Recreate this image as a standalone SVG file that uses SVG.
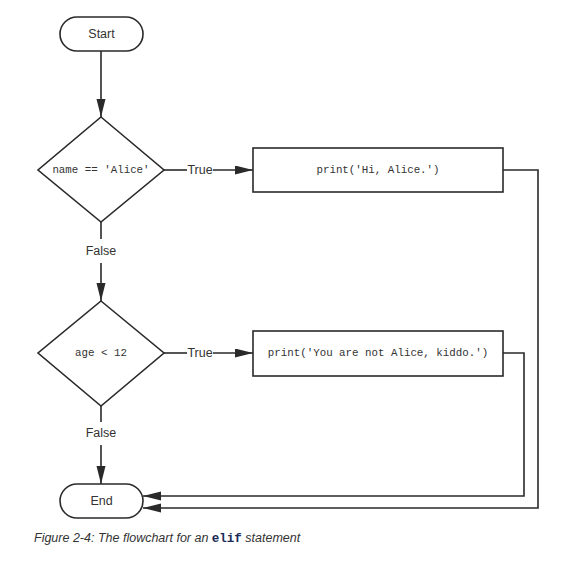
<svg xmlns="http://www.w3.org/2000/svg" width="570" height="561" viewBox="0 0 570 561">
<style>
.shape{fill:#fff;stroke:#2a2a2a;stroke-width:1.6}
.conn{fill:none;stroke:#2a2a2a;stroke-width:1.6}
.lbl{font-family:"Liberation Sans","DejaVu Sans",sans-serif;font-size:12.5px;fill:#333;text-anchor:middle;dominant-baseline:central}
.code{font-family:"Liberation Mono","DejaVu Sans Mono",monospace;font-size:10.8px;fill:#333;text-anchor:middle;dominant-baseline:central}
.cap{font-family:"Liberation Sans","DejaVu Sans",sans-serif;font-size:12.5px;font-style:italic;fill:#333}
</style>
<defs>
<marker id="arr" markerUnits="userSpaceOnUse" markerWidth="19" markerHeight="10" refX="18" refY="4.5" orient="auto">
<path d="M0,0 L18,4.5 L0,9 z" fill="#2a2a2a"/>
</marker>
</defs>
<rect width="570" height="561" fill="#fff"/>
<g id="start">
<rect class="shape" x="60" y="17" width="83" height="34" rx="17"/>
<text class="lbl" x="101.5" y="34">Start</text>
</g>
<g id="cond1">
<polygon class="shape" points="101,117 164,170 101,222 38,170"/>
<text class="code" x="101" y="170">name == 'Alice'</text>
</g>
<g id="print1">
<rect class="shape" x="253" y="148" width="250" height="44"/>
<text class="code" x="378" y="170">print('Hi, Alice.')</text>
</g>
<g id="cond2">
<polygon class="shape" points="101,301 164,353 101,406 38,353"/>
<text class="code" x="101" y="353">age &lt; 12</text>
</g>
<g id="print2">
<rect class="shape" x="253" y="331" width="250" height="45"/>
<text class="code" x="378" y="353">print('You are not Alice, kiddo.')</text>
</g>
<g id="end">
<rect class="shape" x="60" y="484" width="83" height="34" rx="17"/>
<text class="lbl" x="101.5" y="501">End</text>
</g>
<g id="connectors">
<path class="conn" d="M101,51 V117" marker-end="url(#arr)"/>
<path class="conn" d="M101,222 V239"/>
<text class="lbl" x="101" y="251">False</text>
<path class="conn" d="M101,263 V301" marker-end="url(#arr)"/>
<path class="conn" d="M164,170 H187"/>
<text class="lbl" x="200" y="170">True</text>
<path class="conn" d="M213,170 H253" marker-end="url(#arr)"/>
<path class="conn" d="M503,170 H538 V508 H143" marker-end="url(#arr)"/>
<path class="conn" d="M164,353 H187"/>
<text class="lbl" x="200" y="353">True</text>
<path class="conn" d="M213,353 H253" marker-end="url(#arr)"/>
<path class="conn" d="M503,353 H524 V496 H143" marker-end="url(#arr)"/>
<path class="conn" d="M101,406 V422"/>
<text class="lbl" x="101" y="433">False</text>
<path class="conn" d="M101,445 V484" marker-end="url(#arr)"/>
</g>
<text class="cap" x="34" y="542">Figure 2-4: The flowchart for an <tspan font-family="'Liberation Mono','DejaVu Sans Mono',monospace" font-style="normal" font-weight="bold" fill="#1a2a55">elif</tspan> statement</text>
</svg>
